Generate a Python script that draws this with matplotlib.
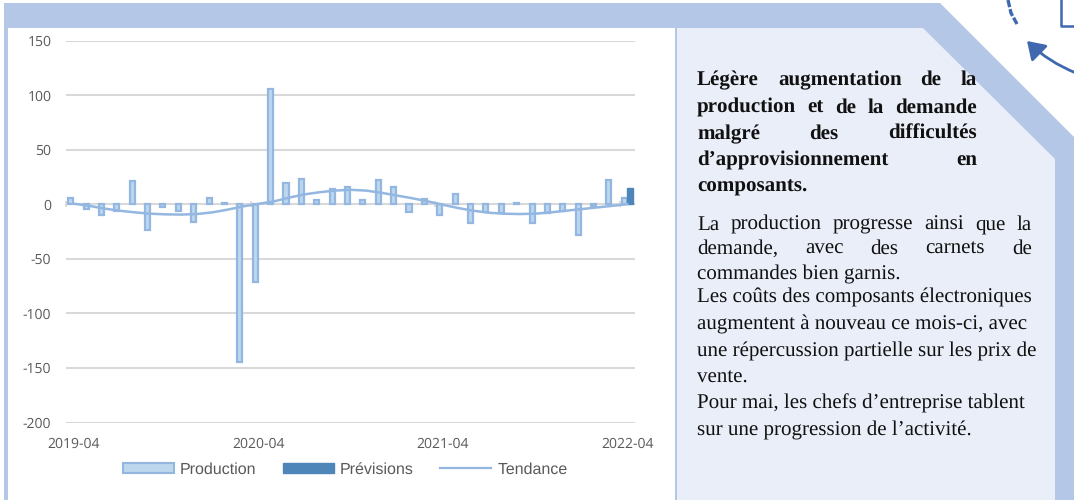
import numpy as np
import matplotlib
matplotlib.use("Agg")
import matplotlib.pyplot as plt
from matplotlib.patches import Polygon, Rectangle, FancyArrowPatch, Patch
from matplotlib.lines import Line2D

plt.rcParams["axes.unicode_minus"] = False
plt.rcParams["text.hinting"] = "no_hinting"
plt.rcParams["text.hinting_factor"] = 1

production = [5.5, -4.5, -10, -6, 21.5, -24, -3, -6, -16, 6, 1.5, -145, -71,
              106, 19, 23.5, 3.5, 13.5, 16, 4, 22, 16, -7.5, 5, -10, 9.5,
              -17, -7, -8, 1.5, -17, -8, -6, -28, -1.5, 22.5, 6]
previsions_value = 15
tendance = [0.5, -1.5, -4, -6, -7.5, -8.7, -9.3, -9.5, -9, -7.5, -5, -2, 0.3,
            2.5, 6, 9, 11, 12.5, 13.2, 12.5, 10.5, 8, 5.5, 2.7, -0.5, -3.5, -6,
            -7.8, -8.7, -9, -8.7, -7.5, -6, -4.5, -3, -1.5, 0]
tick_positions = [0, 12, 24, 36]
tick_labels = ["2019-04", "2020-04", "2021-04", "2022-04"]
y_ticks = [150, 100, 50, 0, -50, -100, -150, -200]

bold_lines = [("Légère augmentation de la", True),
              ("production et de la demande", True),
              ("malgré des difficultés", True),
              ("d’approvisionnement en", True),
              ("composants.", False)]
bold_baselines = [85, 112.5, 139, 165.5, 192]
body_lines = [("La production progresse ainsi que la", True),
              ("demande, avec des carnets de", True),
              ("commandes bien garnis.", False),
              ("Les coûts des composants électroniques", False),
              ("augmentent à nouveau ce mois-ci, avec", False),
              ("une répercussion partielle sur les prix de", False),
              ("vente.", False),
              ("Pour mai, les chefs d’entreprise tablent", False),
              ("sur une progression de l’activité.", False)]
body_baselines = [229.5, 254, 279, 303, 329.5, 356.5, 382.5, 408.5, 435]

BAND = "#B4C7E7"
PANEL = "#E9EEF8"
BAR_FILL = "#BDD7EE"
BAR_EDGE = "#93B7E0"
PREV = "#4F86BA"
GRID = "#D9D9D9"
TXT = "#595959"
ICON = "#3F68AE"

W, H = 1074, 500
fig = plt.figure(figsize=(W / 100, H / 100), dpi=100, facecolor="white")
bg = fig.add_axes([0, 0, 1, 1], zorder=0)
bg.set_xlim(0, W)
bg.set_ylim(H, 0)
bg.axis("off")
bg.add_patch(Polygon([(4, 3), (940, 3), (1074, 137), (1074, 500), (4, 500)], fc=BAND, ec="none"))
bg.add_patch(Rectangle((8, 28), 667, 472, fc="white", ec="none"))
bg.add_patch(Polygon([(677, 28), (923, 28), (1055, 159), (1055, 500), (677, 500)], fc=PANEL, ec="none"))

# icon fragment, top right
bg.plot([1008, 1011, 1017], [0, 13, 24], color=ICON, lw=2.4, ls=(0, (2.2, 0.6)), solid_capstyle="round")
bg.plot([1061, 1061, 1074], [0, 26, 26], color=ICON, lw=1.8)
bg.add_patch(FancyArrowPatch((1076, 73), (1027, 41), connectionstyle="arc3,rad=-0.1",
                             arrowstyle="-|>,head_length=5.5,head_width=3.6", color=ICON, lw=2.0,
                             shrinkA=0, shrinkB=0, mutation_scale=1.9))

# justified text
renderer = fig.canvas.get_renderer()
def draw_lines(lines, baselines, x0, x1, **kw):
    for (line, just), y in zip(lines, baselines):
        if not just:
            bg.text(x0, y, line, va="baseline", ha="left", **kw)
            continue
        words = line.split(" ")
        items = [bg.text(x0, y, w, va="baseline", ha="left", **kw) for w in words]
        widths = [t.get_window_extent(renderer).width for t in items]
        gap = (x1 - x0 - sum(widths)) / (len(words) - 1)
        x = x0
        for t, w_ in zip(items, widths):
            t.set_x(x)
            x += w_ + gap

serif = dict(family="Liberation Serif", color="#111111")
draw_lines(bold_lines, bold_baselines, 697, 977, fontsize=15.2, fontweight="bold", **serif)
draw_lines(body_lines, body_baselines, 697, 1032, fontsize=15.3, **serif)

# chart
ax = fig.add_axes([66 / W, 1 - 422.5 / H, (635 - 66) / W, (422.5 - 40.5) / H], zorder=1)
ax.patch.set_alpha(0)
x = np.arange(len(production))
off = 0.195
ax.bar(x - off, production, width=0.33, color=BAR_FILL, edgecolor=BAR_EDGE, linewidth=1.6, zorder=3)
ax.bar([x[-1] + off], [previsions_value], width=0.38, color=PREV, edgecolor=PREV, linewidth=1.0, zorder=3)
ax.plot(np.arange(len(tendance)), tendance, color=BAR_EDGE, lw=1.8, zorder=4)
ax.set_xlim(-0.5, len(production) - 0.5)
ax.set_ylim(-200, 150)
ax.set_yticks(y_ticks)
ax.set_xticks(tick_positions)
ax.set_xticklabels(tick_labels)
ax.grid(axis="y", color=GRID, lw=1.5, zorder=1)
ax.set_axisbelow(True)
for s in ax.spines.values():
    s.set_visible(False)
ax.tick_params(length=0, labelsize=10.2, labelcolor=TXT)
ax.tick_params(axis="y", pad=10.5)
ax.tick_params(axis="x", pad=10.8)
for lab in ax.get_xticklabels() + ax.get_yticklabels():
    lab.set_family("Open Sans")
ax.vlines(np.array(tick_positions) - 0.5, -3, 3, color=GRID, lw=1.3, zorder=1, clip_on=False)

handles = [Patch(fc=BAR_FILL, ec=BAR_EDGE, lw=1.5, label="Production"),
           Patch(fc=PREV, ec=PREV, lw=1.0, label="Prévisions"),
           Line2D([0], [0], color=BAR_EDGE, lw=1.6, label="Tendance")]
ax.legend(handles=handles, loc="center", bbox_to_anchor=(345, 469.5), bbox_transform=bg.transData,
          ncol=3, frameon=False, handlelength=3.2, handleheight=0.6, handletextpad=0.38,
          columnspacing=1.65, borderpad=0, labelcolor=TXT,
          prop=dict(family="Liberation Sans", size=11.5))

fig.savefig("out.png", dpi=100)
